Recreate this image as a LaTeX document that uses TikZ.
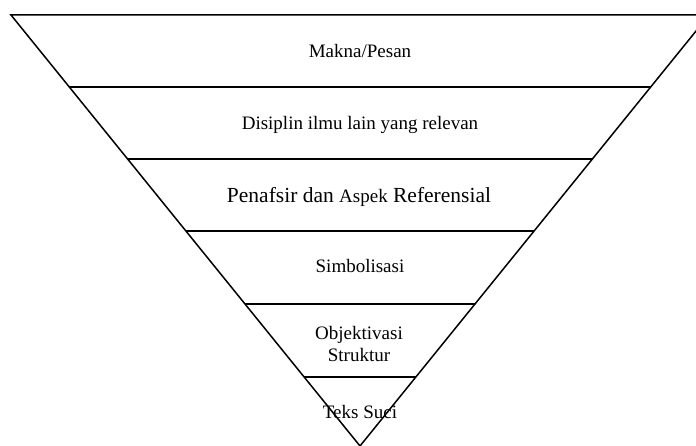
\documentclass[tikz,border=0pt]{standalone}
\usepackage{fontspec}
\setmainfont{Liberation Serif}
\usetikzlibrary{calc}

\begin{document}
\begin{tikzpicture}[x=1pt,y=-1pt]
\tikzset{
  layer/.style={font=\fontsize{19}{22}\selectfont, align=center, inner sep=0pt, anchor=base},
  edge/.style={line width=1.5pt}
}
\useasboundingbox (0,0) rectangle (696,446);
\clip (0,0) rectangle (696,446);

\coordinate (L) at (11,15);
\coordinate (R) at (709,15);
\coordinate (V) at (360,446);

\draw[edge] (L) -- (R) -- (V) -- cycle;
\foreach \t in {0.167,0.334,0.501,0.671,0.840}
  \draw[edge] ($(L)!\t!(V)$) -- ($(R)!\t!(V)$);

\node[layer] (makna) at (360,58) {Makna/Pesan};
\node[layer] (disiplin) at (360,130) {Disiplin ilmu lain yang relevan};
\node[layer, font=\fontsize{21.5}{24}\selectfont] (penafsir) at (359,203) {Penafsir dan {\fontsize{19}{22}\selectfont Aspek} Referensial};
\node[layer] (simbol) at (360,273) {Simbolisasi};
\node[layer, anchor=center] (objektivasi) at (359,344) {Objektivasi\\Struktur};
\node[layer] (teks) at (360,418) {Teks Suci};
\end{tikzpicture}
\end{document}
